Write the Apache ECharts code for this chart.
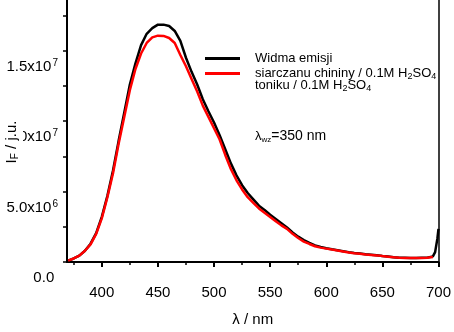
<!DOCTYPE html>
<html>
<head>
<meta charset="utf-8">
<script src="https://cdn.jsdelivr.net/npm/echarts@6/dist/echarts.min.js"></script>
<style>html,body{margin:0;padding:0;background:#fff}#c{width:454px;height:332px}</style>
</head>
<body>
<div id="c"></div>
<script>
// wavelengths (nm)
const wavelengthNm = [370,375,380,385,390,395,400,405,410,415,420,425,430,435,440,445,450,455,460,465,470,475,480,485,490,495,500,505,510,515,520,525,530,535,540,545,550,555,560,565,570,575,580,585,590,595,600,605,610,615,620,625,630,635,640,645,650,655,660,665,670,675,680,685,690,695,697,699,700];
// intensity in units of 1e6
const blackE6 = [0.1,0.25,0.45,0.8,1.3,2.05,3.2,4.7,6.5,8.6,10.6,12.6,14.1,15.4,16.2,16.6,16.85,16.85,16.75,16.4,15.7,14.5,13.5,12.6,11.55,10.7,9.9,9.0,8.0,7.0,6.15,5.45,4.9,4.45,4.0,3.7,3.35,3.05,2.75,2.45,2.1,1.8,1.55,1.35,1.18,1.07,0.98,0.9,0.84,0.77,0.7,0.64,0.6,0.55,0.52,0.48,0.43,0.39,0.34,0.31,0.3,0.29,0.29,0.3,0.31,0.4,0.7,1.65,2.35];
const redE6 = [0.1,0.25,0.45,0.8,1.25,2.0,3.1,4.6,6.3,8.4,10.3,12.2,13.7,14.8,15.55,15.95,16.07,16.05,15.9,15.55,14.7,13.9,13.0,12.1,11.1,10.3,9.5,8.7,7.6,6.6,5.8,5.15,4.6,4.2,3.8,3.5,3.2,2.9,2.6,2.35,2.0,1.7,1.45,1.28,1.12,1.02,0.95,0.88,0.82,0.75,0.68,0.62,0.58,0.53,0.5,0.47,0.42,0.38,0.33,0.3,0.29,0.28,0.28,0.29,0.3,0.35,null,null,null];
const xMajorTicks = [400,450,500,550,600,650,700];
const xMinorTicks = [375,425,475,525,575,625,675];
const yTickValues = [0,2.5,5,7.5,10,12.5,15,17.5];
const yLabelValues = [0,5,10,15];
const yLabelMantissa = ['0.0','5.0x10','1.0x10','1.5x10'];
const yLabelExp = ['', '6', '7', '7'];
const seriesNames = ['Widma emisji', 'siarczanu chininy / 0.1M H2SO4'];
const extraLegendLine = 'toniku / 0.1M H2SO4';

const FONT = 'Liberation Sans, Arial, sans-serif';
function chem(s) {
  const parts = s.split('H2SO4');
  let out = '';
  parts.forEach((p, i) => {
    if (p) out += '{n|' + p + '}';
    if (i < parts.length - 1) out += '{n|H}{sub|2}{n|SO}{sub|4}';
  });
  return out;
}
const chemRich = {
  n: {fontSize: 13, fontFamily: FONT, color: '#000', lineHeight: 15},
  sub: {fontSize: 9, fontFamily: FONT, color: '#000', lineHeight: 9, verticalAlign: 'bottom'}
};

const chart = echarts.init(document.getElementById('c'), null, {renderer: 'canvas'});
const zip = (xs, ys) => xs.map((x, i) => [x, ys[i]]);

chart.setOption({
  animation: false,
  backgroundColor: '#fff',
  grid: {left: 67, right: 13, top: 0, bottom: 69, containLabel: false},
  xAxis: [{
    type: 'value', min: 369, max: 700,
    axisLine: {show: true, lineStyle: {color: '#000', width: 2}},
    axisTick: {show: true, customValues: xMajorTicks, length: 5, lineStyle: {color: '#000', width: 2}},
    axisLabel: {customValues: xMajorTicks, margin: 23, fontSize: 15, fontFamily: FONT, color: '#000'},
    splitLine: {show: false},
    name: 'λ / nm', nameLocation: 'middle', nameGap: 50,
    nameTextStyle: {fontSize: 15, fontFamily: FONT, color: '#000'}
  }, {
    type: 'value', min: 369, max: 700, position: 'bottom',
    axisLine: {show: false},
    axisTick: {show: true, customValues: xMinorTicks, length: 3, lineStyle: {color: '#000', width: 1.5}},
    axisLabel: {show: false},
    splitLine: {show: false}
  }],
  yAxis: [{
    type: 'value', min: 0, max: 18.6, position: 'left',
    axisLine: {show: true, lineStyle: {color: '#000', width: 2}},
    axisTick: {show: true, customValues: yTickValues, length: 4, lineStyle: {color: '#000', width: 1.5}},
    axisLabel: {
      customValues: yLabelValues, margin: 9, verticalAlign: 'middle', padding: [31,0,0,0],
      formatter: function (v) {
        const i = yLabelValues.indexOf(v);
        if (i < 0) return '';
        return '{b|' + yLabelMantissa[i] + '}{s|' + (yLabelExp[i] || ' ') + '}';
      },
      rich: {
        b: {fontSize: 15, fontFamily: FONT, color: '#000', lineHeight: 16, verticalAlign: 'bottom'},
        s: {fontSize: 10, fontFamily: FONT, color: '#000', lineHeight: 10, verticalAlign: 'top', padding: [0,0,16,1]}
      }
    },
    splitLine: {show: false}
  }, {
    type: 'value', min: 0, max: 18.6, position: 'right',
    axisLine: {show: true, lineStyle: {color: '#000', width: 1.5}},
    axisTick: {show: false}, axisLabel: {show: false}, splitLine: {show: false}
  }],
  legend: {
    orient: 'vertical', left: 205, top: 51, padding: 0, itemWidth: 35, itemHeight: 3, itemGap: 0,
    icon: 'rect', selectedMode: false,
    data: seriesNames,
    formatter: function (name) { return chem(name); },
    textStyle: {fontSize: 13, fontFamily: FONT, color: '#000', lineHeight: 15, padding: [0,0,0,10], rich: chemRich}
  },
  series: [{
    name: seriesNames[0], type: 'line', xAxisIndex: 0, yAxisIndex: 0,
    data: zip(wavelengthNm, blackE6), showSymbol: false, smooth: false,
    lineStyle: {color: '#000', width: 2.5}, itemStyle: {color: '#000'}, z: 2
  }, {
    name: seriesNames[1], type: 'line', xAxisIndex: 0, yAxisIndex: 0,
    data: zip(wavelengthNm, redE6), showSymbol: false, smooth: false,
    lineStyle: {color: '#ff0000', width: 2.5}, itemStyle: {color: '#ff0000'}, z: 3
  }],
  graphic: [{
    type: 'text', left: 255, top: 79, z: 100,
    style: {text: chem(extraLegendLine), rich: chemRich, fill: '#000'}
  }, {
    type: 'text', left: 255, top: 129, z: 100,
    style: {
      text: '{l|λ}{w|wz}{t|=350 nm}',
      rich: {
        l: {fontSize: 13, fontFamily: FONT, color: '#000', lineHeight: 15},
        w: {fontSize: 8, fontFamily: FONT, color: '#000', lineHeight: 9, verticalAlign: 'bottom'},
        t: {fontSize: 14, fontFamily: FONT, color: '#000', lineHeight: 15}
      }
    }
  }, {
    type: 'text', x: 13, y: 142, rotation: Math.PI / 2, z: 100,
    style: {
      text: '{n|I}{f|F}{n| / j.u.}',
      align: 'center', verticalAlign: 'middle',
      backgroundColor: '#fff', padding: [0,0,3,0],
      rich: {
        n: {fontSize: 15, fontFamily: FONT, color: '#000', lineHeight: 17},
        f: {fontSize: 10, fontFamily: FONT, color: '#000', lineHeight: 11, verticalAlign: 'bottom'}
      }
    }
  }]
});
</script>
</body>
</html>
